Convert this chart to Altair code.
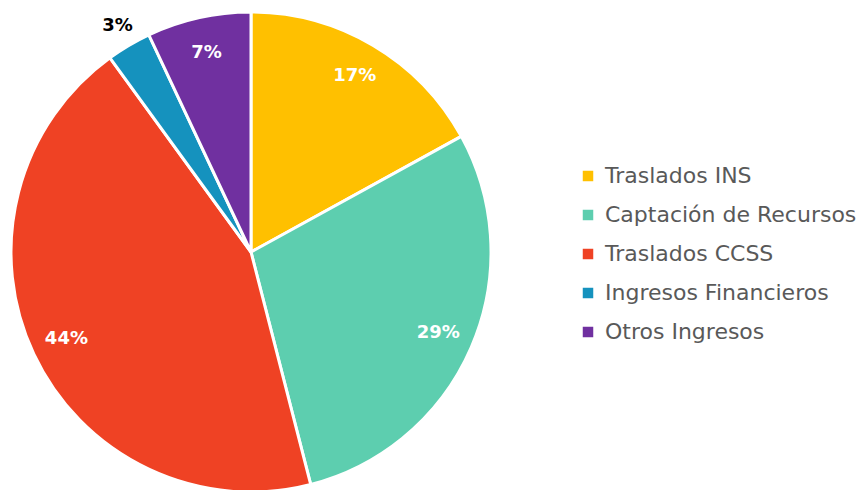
import altair as alt
import pandas as pd

categories = ["Traslados INS", "Captación de Recursos", "Traslados CCSS", "Ingresos Financieros", "Otros Ingresos"]
values = [17, 29, 44, 3, 7]
colors = ["#FFC000", "#5DCEAF", "#EF4224", "#1592BE", "#7030A0"]

df = pd.DataFrame({"cat": categories, "value": values, "order": list(range(len(categories)))})
df["label"] = df["value"].astype(str) + "%"

FONT = "DejaVu Sans"

arcs = alt.Chart(df).mark_arc(outerRadius=240, stroke="white", strokeWidth=3).encode(
    theta=alt.Theta("value:Q", stack=True),
    order=alt.Order("order:Q", sort="ascending"),
    x=alt.value(243), y=alt.value(244),
    color=alt.Color("cat:N", sort=categories,
                    scale=alt.Scale(domain=categories, range=colors),
                    legend=alt.Legend(title=None, orient="none", legendX=569, legendY=157,
                                      symbolType="square", symbolSize=110, symbolStrokeWidth=0,
                                      labelFont=FONT, labelFontSize=22, labelColor="#595959",
                                      rowPadding=17, labelOffset=6, labelLimit=400)),
)

text = alt.Chart(df).transform_joinaggregate(
    total="sum(value)"
).transform_window(
    cum="sum(value)", sort=[alt.SortField("order", order="ascending")], frame=[None, 0]
).transform_calculate(
    mid="(datum.cum - datum.value / 2) / datum.total * 2 * PI",
    r="datum.value < 5 ? 262 : 204",
    tc="datum.value < 5 ? 'black' : 'white'",
).mark_text(font=FONT, fontSize=18, fontWeight="bold").encode(
    theta=alt.Theta("mid:Q", scale=None, stack=None),
    x=alt.value(243), y=alt.value(244),
    radius=alt.Radius("r:Q", scale=None),
    text="label:N",
    color=alt.Color("tc:N", scale=None),
)

chart = (arcs + text).properties(
    width=852, height=482, padding=0, autosize=alt.AutoSizeParams(type="none")
).configure_view(stroke=None)

chart.save("out.html", embed_options={"renderer": "svg", "actions": False})
